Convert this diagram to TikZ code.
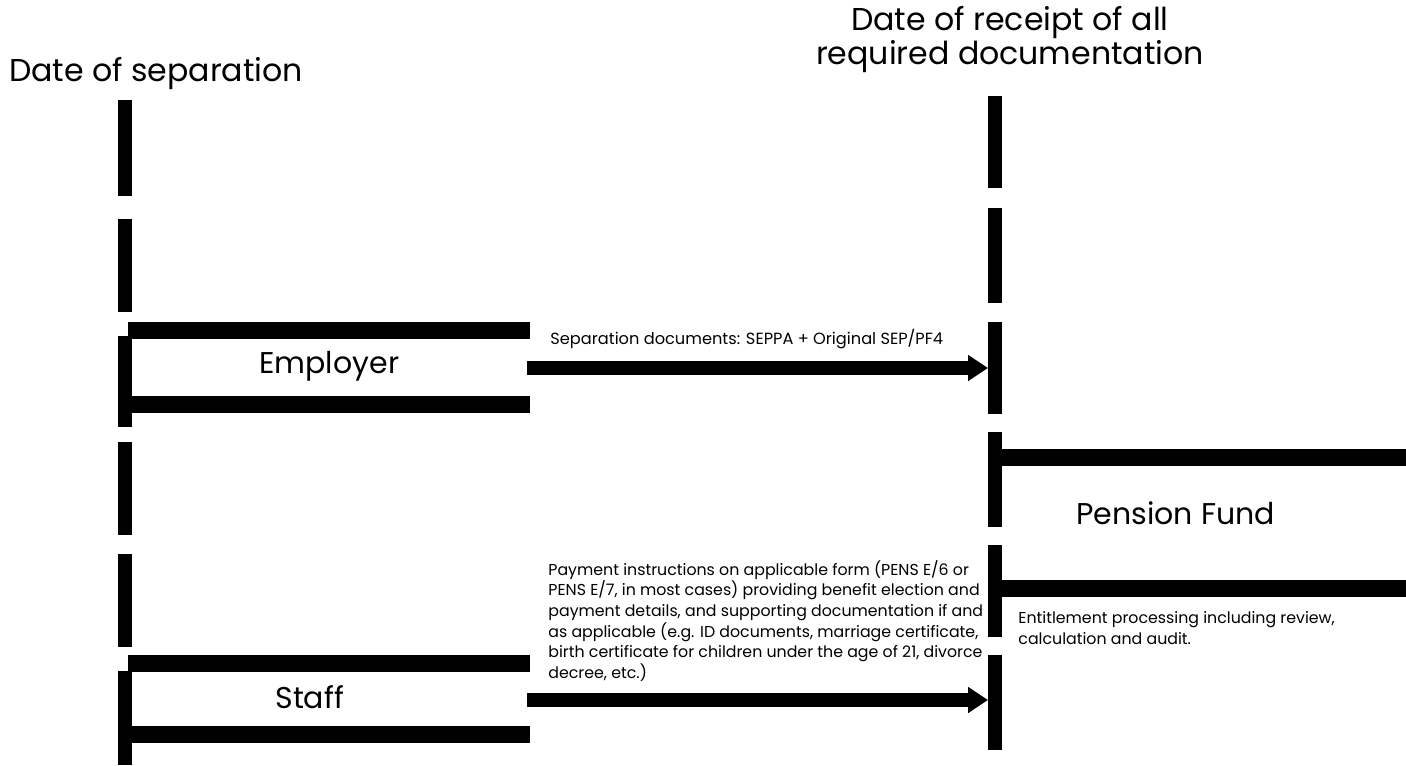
\documentclass[tikz,border=0pt]{standalone}
\usepackage{fontspec}
\setmainfont{Poppins}
\usetikzlibrary{arrows.meta}
\tikzset{
  life/.style={line width=7pt},
  band/.style={line width=8.5pt},
  msg/.style={line width=7pt,-{Triangle[length=10pt,width=12.5pt]}},
  head/.style={inner sep=0pt,font=\fontsize{15.8}{17}\selectfont},
  big/.style={inner sep=0pt,font=\fontsize{15}{17}\selectfont},
  small/.style={inner sep=0pt,align=left,font=\fontsize{7.9}{10.35}\selectfont}
}
\begin{document}
\begin{tikzpicture}[x=0.5pt,y=-0.5pt]
  \useasboundingbox (0,0) rectangle (1406,765);
  % headings
  \node[head,anchor=base] (sep) at (156,82) {Date of separation};
  \node[head,anchor=base,align=center] (rec) at (1010,65) {Date of receipt of all\\[0.2pt]required documentation};
  % left lifeline
  \foreach \a/\b in {100/196,219/312,336/427,442/535,554/647,671/765}
    \draw[life] (124.5,\a) -- (124.5,\b);
  % right lifeline
  \foreach \a/\b in {96/188,208/303,322/414,432/527,545/637,655/750}
    \draw[life] (995,\a) -- (995,\b);
  % employer
  \draw[band] (128,330.5) -- (530,330.5);
  \draw[band] (128,404.5) -- (530,404.5);
  \node[big,anchor=base west] (employer) at (259,373) {Employer};
  % staff
  \draw[band] (128,663.5) -- (530,663.5);
  \draw[band] (128,734.5) -- (530,734.5);
  \node[big,anchor=base west] (staff) at (275,708) {Staff};
  % pension fund
  \draw[band] (1002,457.5) -- (1406,457.5);
  \draw[band] (1002,588.5) -- (1406,588.5);
  \node[big,anchor=base west] (pf) at (1076,524) {Pension Fund};
  \node[small,anchor=base west] (audit) at (1018,644) {Entitlement processing including review,\\calculation and audit.};
  % messages
  \coordinate (emp-out) at (527,368);
  \coordinate (rec-in1) at (988,368);
  \coordinate (staff-out) at (527,700);
  \coordinate (rec-in2) at (988,700);
  \draw[msg] (emp-out) -- (rec-in1);
  \draw[msg] (staff-out) -- (rec-in2);
  \node[small,anchor=base west,font=\fontsize{8.1}{10.35}\selectfont] (sepdocs) at (550,344) {Separation documents: SEPPA + Original SEP/PF4};
  \node[small,anchor=base west] (payinst) at (548,678.5) {Payment instructions on applicable form (PENS E/6 or\\PENS E/7, in most cases) providing benefit election and\\payment details, and supporting documentation if and\\as applicable (e.g. ID documents, marriage certificate,\\birth certificate for children under the age of 21, divorce\\decree, etc.)};
\end{tikzpicture}
\end{document}
